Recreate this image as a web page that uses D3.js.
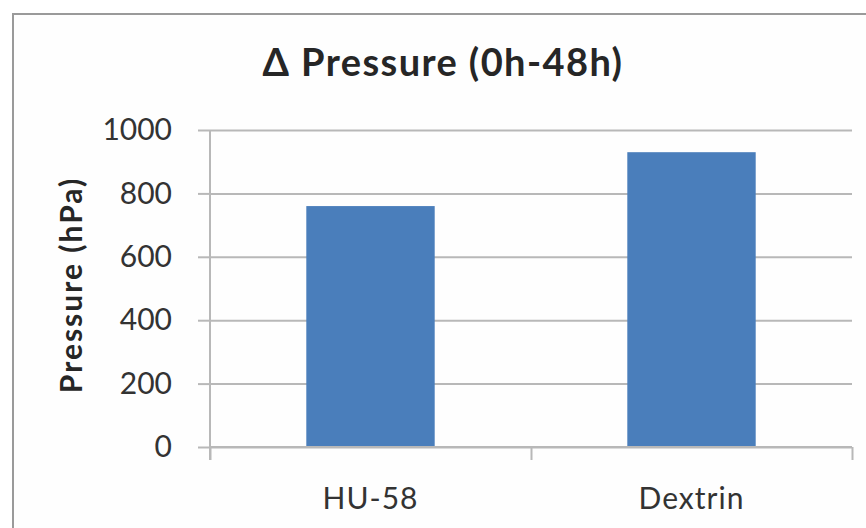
<!DOCTYPE html>
<meta charset="utf-8">
<head>
  <style>
    body { margin: 0; background: #fff; }
    svg { display: block; }
    svg text { font-family: Lato, 'Open Sans', sans-serif; }
  </style>
</head>
<body>
<svg width="866" height="528"></svg>
<script src="https://d3js.org/d3.v7.min.js"></script>
<script>

var categories = ["HU-58", "Dextrin"];
var values = [760, 930];
var yTicks = [0, 200, 400, 600, 800, 1000];

var svg = d3.select("svg");

var margin = {top: 130, right: 14, bottom: 81, left: 210},
    width = 866 - margin.left - margin.right,
    height = 528 - margin.top - margin.bottom;

// chart frame
svg.append("rect")
    .attr("x", 13).attr("y", 14)
    .attr("width", 870).attr("height", 530)
    .style("fill", "#fefefe")
    .style("stroke", "#9a9a9a")
    .style("stroke-width", 2);

svg.append("text")
    .attr("x", 443).attr("y", 76)
    .attr("text-anchor", "middle")
    .style("font-size", "38px")
    .style("font-weight", "bold")
    .style("letter-spacing", "1.4px")
    .style("fill", "#262626")
    .text("\u0394 Pressure (0h-48h)");

var g = svg.append("g")
    .attr("transform", "translate(" + margin.left + "," + margin.top + ")");

var x = d3.scaleBand().domain(categories).range([0, width]).paddingInner(0.6).paddingOuter(0.3);
var y = d3.scaleLinear().domain([0, 1000]).range([height, 0]);

// gridlines
g.append("g")
    .call(d3.axisLeft(y).tickValues(yTicks).tickSize(-width).tickFormat(""))
    .call(function(a) {
      a.select(".domain").remove();
      a.selectAll("line").style("stroke", "#b8b8b8").style("stroke-width", 2);
    });

// y axis
g.append("g")
    .call(d3.axisLeft(y).tickValues(yTicks).tickSize(12).tickPadding(26).tickFormat(d3.format("d")))
    .call(function(a) {
      a.attr("font-family", null).attr("font-size", null);
      a.select(".domain").attr("d", "M0," + (height + 13) + "V0").style("stroke", "#b8b8b8").style("stroke-width", 2);
      a.selectAll("line").style("stroke", "#b8b8b8").style("stroke-width", 2);
      a.selectAll("text").style("font-size", "30px").style("fill", "#333");
    });

// bars
g.selectAll(".bar")
    .data(values)
  .enter().append("rect")
    .attr("class", "bar")
    .attr("x", function(d, i) { return x(categories[i]); })
    .attr("width", x.bandwidth())
    .attr("y", function(d) { return y(d); })
    .attr("height", function(d) { return height - y(d); })
    .style("fill", "#4a7ebb");

// x axis
var xb = d3.scaleLinear().domain([0, categories.length]).range([0, width]);
g.append("g")
    .attr("transform", "translate(0," + height + ")")
    .call(d3.axisBottom(xb).ticks(categories.length).tickSize(13).tickFormat(""))
    .call(function(a) {
      a.select(".domain").attr("d", "M0,0H" + width).style("stroke", "#b8b8b8").style("stroke-width", 2);
      a.selectAll("line").style("stroke", "#b8b8b8").style("stroke-width", 2);
    });

g.append("g")
    .selectAll("text")
    .data(categories)
  .enter().append("text")
    .attr("x", function(d) { return x(d) + x.bandwidth() / 2; })
    .attr("y", height + 62)
    .attr("text-anchor", "middle")
    .style("font-size", "30px")
    .style("letter-spacing", "1px")
    .style("fill", "#333")
    .text(function(d) { return d; });

svg.append("text")
    .attr("transform", "translate(82," + 285 + ") rotate(-90)")
    .attr("text-anchor", "middle")
    .style("font-size", "30px")
    .style("font-weight", "bold")
    .style("letter-spacing", "2px")
    .style("fill", "#262626")
    .text("Pressure (hPa)");

</script>
</body>
